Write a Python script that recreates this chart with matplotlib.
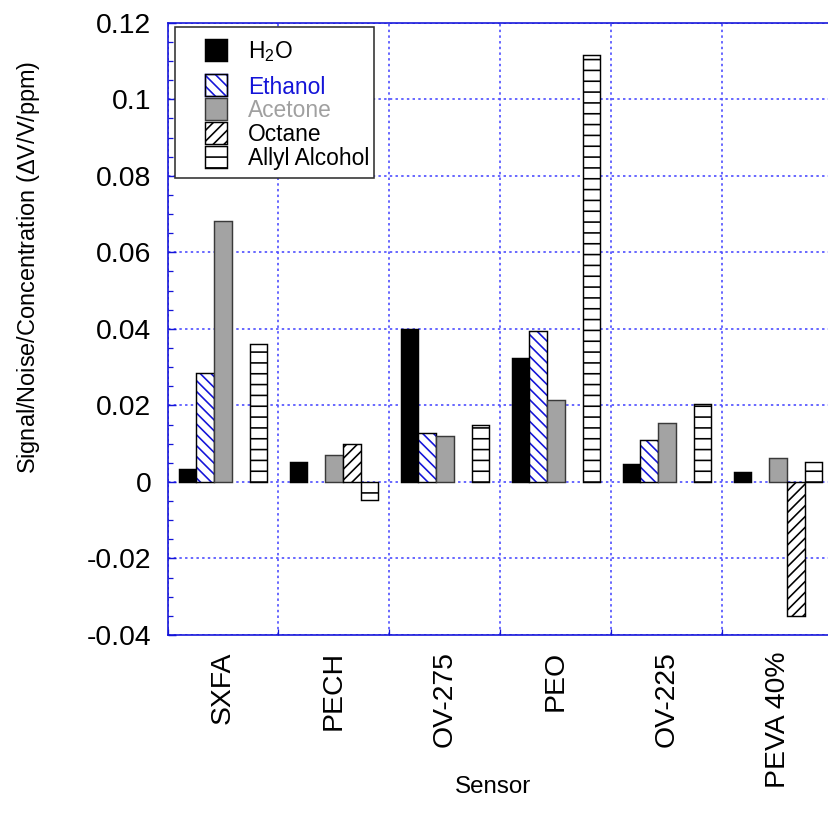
import numpy as np
import matplotlib
matplotlib.use("Agg")
import matplotlib.pyplot as plt
from matplotlib.patches import Rectangle
from matplotlib.ticker import MultipleLocator, FixedLocator, FuncFormatter

plt.rcParams['font.family'] = ['Liberation Sans', 'DejaVu Sans']
plt.rcParams['mathtext.fontset'] = 'custom'
plt.rcParams['mathtext.rm'] = 'Liberation Sans'
plt.rcParams['mathtext.it'] = 'Liberation Sans:italic'
plt.rcParams['mathtext.default'] = 'regular'
plt.rcParams['hatch.linewidth'] = 0.9

# sensitivity per sensor and analyte
sensors = ['SXFA', 'PECH', 'OV-275', 'PEO', 'OV-225', 'PEVA 40%']
h2o = [0.0035, 0.0053, 0.0400, 0.0325, 0.0048, 0.0027]
ethanol = [0.0285, 0.0, 0.0127, 0.0395, 0.0109, 0.0]
acetone = [0.0682, 0.0071, 0.0120, 0.0214, 0.0155, 0.0063]
octane = [0.0, 0.0099, 0.0, 0.0, 0.0, -0.0351]
allyl = [0.0361, -0.0048, 0.0148, 0.1115, 0.0203, 0.0053]

BLUE = '#1414d8'
GRID = '#4a4aff'
GRAY = '#a3a3a3'

H_ETH = '\\' * 4
H_OCT = '////'
H_ALL = '--'


def shown(vals):
    # no bar is drawn where the response is zero
    v = np.asarray(vals, dtype=float)
    return np.where(v == 0, np.nan, v)


DPI = 130
fig = plt.figure(figsize=(828 / DPI, 826 / DPI), dpi=DPI)
ax = fig.add_axes([0.2023, 0.2312, 0.8043, 0.7413])
ax.set_axisbelow(True)

x = np.arange(len(sensors))
w = 0.16
off = np.arange(-2, 3) * w

ax.bar(x + off[0], shown(h2o), w, color='black', edgecolor='black', lw=0.8)
ax.bar(x + off[1], shown(ethanol), w, color='white', edgecolor=BLUE, hatch=H_ETH, lw=0)
ax.bar(x + off[1], shown(ethanol), w, fill=False, edgecolor='black', lw=0.8)
ax.bar(x + off[2], shown(acetone), w, color=GRAY, edgecolor='#3a3a3a', lw=0.8)
ax.bar(x + off[3], shown(octane), w, color='white', edgecolor='black', hatch=H_OCT, lw=0.8)
ax.bar(x + off[4], shown(allyl), w, color='white', edgecolor='black', hatch=H_ALL, lw=0.8)

# axes, ticks, grid
ax.set_xlim(-0.5, len(sensors) - 0.5)
ax.set_ylim(-0.04, 0.12)
ax.yaxis.set_major_locator(MultipleLocator(0.02))
ax.yaxis.set_minor_locator(MultipleLocator(0.005))
ax.yaxis.set_major_formatter(FuncFormatter(lambda v, p: f'{round(v, 4) + 0.0:g}'))
ax.set_xticks(x)
ax.set_xticklabels(sensors, rotation=90)
ax.xaxis.set_minor_locator(FixedLocator(np.arange(-0.5, len(sensors), 1.0)))

ax.tick_params(axis='y', which='major', direction='in', length=4.5, width=0.8,
               color=BLUE, labelsize=15.7, pad=9)
ax.tick_params(axis='y', which='minor', direction='in', length=2.8, width=0.7, color=BLUE)
ax.tick_params(axis='x', which='major', length=0, labelsize=15.7, pad=9)
ax.tick_params(axis='x', which='minor', direction='in', length=3.5, width=0.7, color=BLUE)

for s in ax.spines.values():
    s.set_color(BLUE)
    s.set_linewidth(0.9)

ax.grid(axis='y', which='major', color=GRID, lw=0.9, ls=(0, (1.5, 2.0)))
ax.grid(axis='x', which='minor', color=GRID, lw=0.9, ls=(0, (1.5, 2.0)))

ax.set_ylabel('Signal/Noise/Concentration ($\\mathit{Δ}$V/V/ppm)', fontsize=13)
ax.yaxis.set_label_coords(-0.188, 0.601)
ax.set_xlabel('Sensor', fontsize=13.4)
ax.xaxis.set_label_coords(0.489, -0.23)

# legend drawn by hand in axes fraction
ax.add_patch(Rectangle((0.0113, 0.7459), 0.2987, 0.2466, transform=ax.transAxes,
                       facecolor='white', edgecolor='#333333', lw=0.9, zorder=5))
labels = ['H$_2$O', 'Ethanol', 'Acetone', 'Octane', 'Allyl Alcohol']
text_colors = ['black', BLUE, '#a0a0a0', 'black', 'black']
styles = [
    dict(facecolor='black', edgecolor='black'),
    dict(facecolor='white', edgecolor=BLUE, hatch=H_ETH),
    dict(facecolor=GRAY, edgecolor='#3a3a3a'),
    dict(facecolor='white', edgecolor='black', hatch=H_OCT),
    dict(facecolor='white', edgecolor='black', hatch=H_ALL),
]
row_y = [0.9556, 0.8983, 0.8594, 0.8202, 0.7812]
hw, hh = 0.0326, 0.0354
for lab, col, st, yc in zip(labels, text_colors, styles, row_y):
    ax.add_patch(Rectangle((0.0563, yc - hh / 2), hw, hh, transform=ax.transAxes,
                           lw=0.8, zorder=6, **st))
    if st.get('hatch') == H_ETH:
        ax.add_patch(Rectangle((0.0563, yc - hh / 2), hw, hh, transform=ax.transAxes,
                               fill=False, edgecolor='black', lw=0.8, zorder=7))
    ax.text(0.1209, yc - 0.014, lab, transform=ax.transAxes, color=col,
            fontsize=12.6, va='baseline', ha='left', zorder=7)

fig.savefig('out.png', dpi=DPI)
